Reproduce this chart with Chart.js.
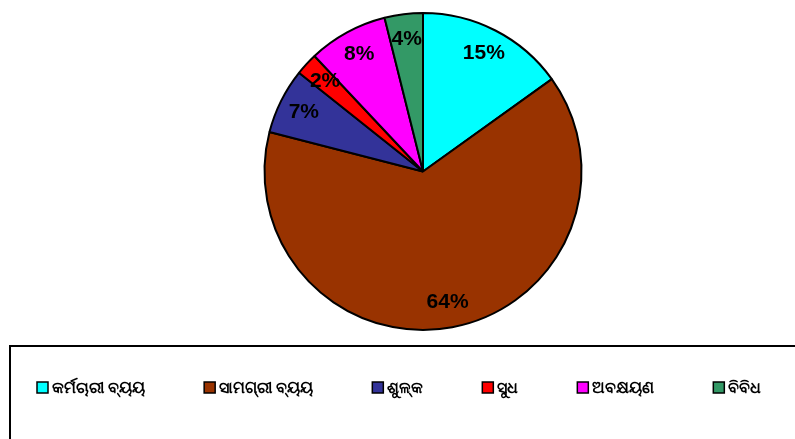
<!DOCTYPE html>
<html>
<head>
<meta charset="utf-8">
<script src="https://cdn.jsdelivr.net/npm/chart.js@4.4.0/dist/chart.umd.min.js"></script>
<style>
  html, body { margin: 0; padding: 0; background: #fff; }
  #wrap { width: 795px; height: 439px; position: relative; }
</style>
</head>
<body>
<div id="wrap"><canvas id="pieChart" width="795" height="439"></canvas></div>
<script>
// categories (Odia) and their share of expenditure, in percent
const categories = ['କର୍ମଚାରୀ ବ୍ୟୟ', 'ସାମଗ୍ରୀ ବ୍ୟୟ', 'ଶୁଳ୍କ', 'ସୁଧ', 'ଅବକ୍ଷୟଣ', 'ବିବିଧ'];
const shares = [15.1, 63.9, 6.7, 2.3, 8.1, 3.9];
const colors = ['#00ffff', '#993300', '#333399', '#ff0000', '#ff00ff', '#339966'];

const labelFont = 'bold 21px "Liberation Sans", Arial, sans-serif';
const legendFont = 'bold 16px "Noto Sans", "DejaVu Sans", sans-serif';

// percent labels inside the slices
const sliceLabels = {
  id: 'sliceLabels',
  afterDatasetsDraw(chart) {
    const ctx = chart.ctx;
    const meta = chart.getDatasetMeta(0);
    ctx.save();
    ctx.font = labelFont;
    ctx.fillStyle = '#000';
    ctx.textAlign = 'center';
    ctx.textBaseline = 'middle';
    meta.data.forEach((arc, i) => {
      const p = arc.getProps(['x', 'y', 'startAngle', 'endAngle', 'outerRadius']);
      const mid = (p.startAngle + p.endAngle) / 2;
      const r = p.outerRadius * 0.84;
      ctx.fillText(Math.round(shares[i]) + '%', p.x + Math.cos(mid) * r, p.y + Math.sin(mid) * r);
    });
    ctx.restore();
  }
};

// framed legend along the bottom
const boxLegend = {
  id: 'boxLegend',
  afterDraw(chart) {
    const ctx = chart.ctx;
    ctx.save();
    ctx.lineWidth = 2;
    ctx.strokeStyle = '#000';
    ctx.strokeRect(10, 346, 800, 110);
    ctx.font = legendFont;
    ctx.textBaseline = 'middle';
    let x = 37;
    const y = 388;
    categories.forEach((c, i) => {
      ctx.fillStyle = colors[i];
      ctx.fillRect(x, y - 6, 11, 11);
      ctx.lineWidth = 1.5;
      ctx.strokeRect(x, y - 6, 11, 11);
      ctx.fillStyle = '#000';
      ctx.fillText(c, x + 15, y);
      x += 15 + ctx.measureText(c).width + 59;
    });
    ctx.restore();
  }
};

new Chart(document.getElementById('pieChart').getContext('2d'), {
  type: 'pie',
  data: {
    labels: categories,
    datasets: [{
      data: shares,
      backgroundColor: colors,
      borderColor: '#000',
      borderWidth: 2
    }]
  },
  options: {
    responsive: false,
    animation: false,
    layout: { padding: { top: 12, bottom: 108, left: 263, right: 212 } },
    plugins: {
      legend: { display: false },
      tooltip: { enabled: false }
    }
  },
  plugins: [sliceLabels, boxLegend]
});
</script>
</body>
</html>
